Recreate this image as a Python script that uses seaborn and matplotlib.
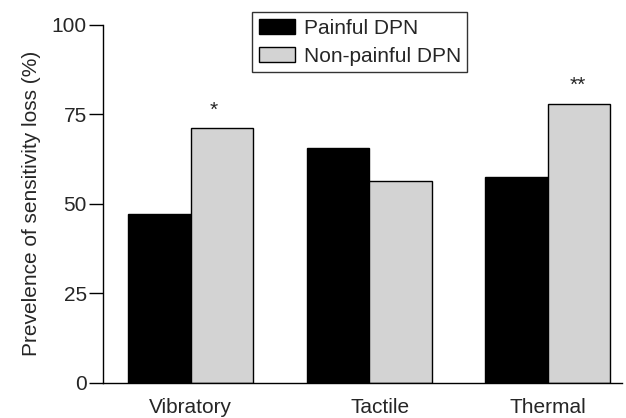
import pandas as pd
import matplotlib.pyplot as plt
import matplotlib.transforms as mtransforms
import seaborn as sns

categories = ["Vibratory", "Tactile", "Thermal"]
groups = ["Painful DPN", "Non-painful DPN"]
painful = [47.2, 65.6, 57.3]
non_painful = [71.1, 56.4, 77.9]
stars = ["*", "", "**"]
star_dx = [0.13, 0, 0.17]

df = pd.DataFrame({
    "modality": categories * 2,
    "group": [groups[0]] * 3 + [groups[1]] * 3,
    "value": painful + non_painful,
})

sns.set_style("ticks")
plt.rcParams["font.family"] = ["Liberation Sans", "DejaVu Sans"]

fig = plt.figure(figsize=(6.26, 4.18), dpi=100)
ax = fig.add_axes([0.1653, 0.0849, 0.8283, 0.856])

sns.barplot(
    data=df, x="modality", y="value", hue="group",
    order=categories, hue_order=groups,
    palette=["black", "lightgray"], width=0.7, gap=0,
    edgecolor="black", linewidth=1, saturation=1, ax=ax,
)

# significance marks above the non-painful bars
for i, s in enumerate(stars):
    if s:
        ax.text(i + star_dx[i], non_painful[i] + 3.5, s, ha="center", va="baseline", fontsize=15)

ax.set_xlim(-0.4885, 2.416)
ax.set_ylim(0, 100)
ax.set_yticks([0, 25, 50, 75, 100])
ax.set_xlabel("")
ax.set_ylabel("Prevelence of sensitivity loss (%)", fontsize=15, labelpad=8)
ax.tick_params(axis="y", length=10, width=1, pad=2, labelsize=15, color="black")
ax.tick_params(axis="x", length=0, pad=11, labelsize=15)
sns.despine(ax=ax)
for sp in ["left", "bottom"]:
    ax.spines[sp].set_linewidth(1)
    ax.spines[sp].set_color("black")

# the middle label sits a little right of its group in the original
lab = ax.get_xticklabels()[1]
lab.set_transform(lab.get_transform() + mtransforms.ScaledTranslation(0.11, 0, fig.dpi_scale_trans))

leg = ax.legend(
    loc="upper left", bbox_to_anchor=(0.403, 0.9706), bbox_transform=fig.transFigure,
    borderaxespad=0, fontsize=15, frameon=True, fancybox=False,
    handlelength=1.76, handleheight=0.75, handletextpad=0.42,
    borderpad=0.3, labelspacing=0.45, title=None,
)
leg.get_frame().set_edgecolor("black")
leg.get_frame().set_linewidth(1)

fig.savefig("out.png", dpi=100)
